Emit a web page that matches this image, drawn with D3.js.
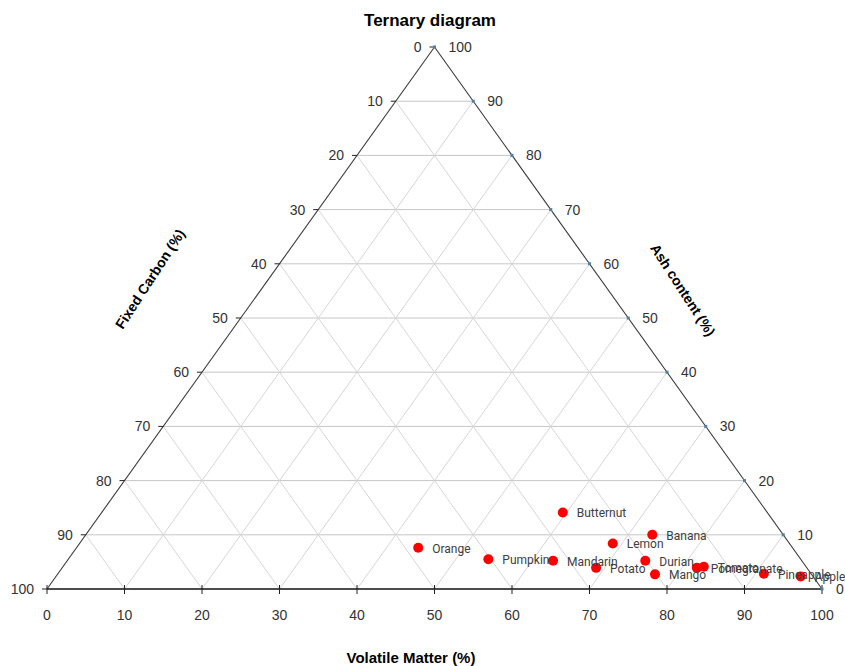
<!DOCTYPE html>
<html>
<head>
<meta charset="utf-8">
<script src="https://cdn.jsdelivr.net/npm/d3@7"></script>
<style>
  html, body { margin: 0; padding: 0; background: #fff; }
  svg { display: block; }
</style>
</head>
<body>
<svg id="chart" width="845" height="666"></svg>
<script>
// Proximate composition of fruit & vegetable residues (%)
const samples       = ["Butternut", "Banana", "Orange", "Lemon", "Pumpkin", "Mandarin", "Potato", "Durian", "Mango", "Pomegranate", "Tomato", "Pineapple", "Apple"];
const volatileMatter = [59.5, 73.1, 44.1, 68.8, 54.2, 62.7, 68.9, 74.6, 77.1, 81.9, 82.7, 91.1, 96.1];
const ashContent     = [14.1, 10.0, 7.6, 8.4, 5.5, 5.2, 3.9, 5.2, 2.7, 3.9, 4.1, 2.8, 2.3];
const fixedCarbon    = volatileMatter.map((v, i) => +(100 - v - ashContent[i]).toFixed(1));

const ticks = [0, 10, 20, 30, 40, 50, 60, 70, 80, 90, 100];
const gridLevels = [10, 20, 30, 40, 50, 60, 70, 80, 90];

const svg = d3.select("#chart");

// Horizontal position follows V + A/2, vertical follows A
const xs = d3.scaleLinear().domain([0, 100]).range([47, 822]);
const ys = d3.scaleLinear().domain([0, 100]).range([589, 47]);
const px = (v, a) => xs(v + a / 2);
const py = (v, a) => ys(a);

const narrow = "'Liberation Sans Narrow', 'Arial Narrow', 'Liberation Sans', Arial, sans-serif";

// Grid
const grid = svg.append("g");
// constant ash (horizontal)
grid.selectAll("line.h").data(gridLevels).join("line")
  .attr("x1", a => px(0, a)).attr("y1", a => py(0, a))
  .attr("x2", a => px(100 - a, a)).attr("y2", a => py(100 - a, a))
  .attr("stroke", "#c6c6c6").attr("stroke-width", 1);
// constant volatile matter
grid.selectAll("line.v").data(gridLevels).join("line")
  .attr("x1", k => px(k, 0)).attr("y1", k => py(k, 0))
  .attr("x2", k => px(k, 100 - k)).attr("y2", k => py(k, 100 - k))
  .attr("stroke", "#d6d6d6").attr("stroke-width", 1);
// constant fixed carbon
grid.selectAll("line.f").data(gridLevels).join("line")
  .attr("x1", f => px(100 - f, 0)).attr("y1", f => py(100 - f, 0))
  .attr("x2", f => px(0, 100 - f)).attr("y2", f => py(0, 100 - f))
  .attr("stroke", "#d6d6d6").attr("stroke-width", 1);

// Triangle edges
svg.append("line")
  .attr("x1", px(0, 0)).attr("y1", py(0, 0)).attr("x2", px(0, 100)).attr("y2", py(0, 100))
  .attr("stroke", "#3a3a3a").attr("stroke-width", 1.1);
svg.append("line")
  .attr("x1", px(100, 0)).attr("y1", py(100, 0)).attr("x2", px(0, 100)).attr("y2", py(0, 100))
  .attr("stroke", "#3a3a3a").attr("stroke-width", 1.1);
svg.append("line")
  .attr("x1", px(0, 0)).attr("y1", py(0, 0)).attr("x2", px(100, 0)).attr("y2", py(100, 0))
  .attr("stroke", "#111").attr("stroke-width", 1.5);

// Bottom axis ticks and labels (Volatile Matter)
svg.selectAll("line.bt").data(ticks).join("line")
  .attr("x1", v => px(v, 0)).attr("x2", v => px(v, 0))
  .attr("y1", py(0, 0) - 4).attr("y2", py(0, 0) + 5)
  .attr("stroke", "#222").attr("stroke-width", 1);
svg.selectAll("text.bl").data(ticks).join("text")
  .attr("x", v => px(v, 0)).attr("y", 620)
  .attr("text-anchor", "middle")
  .attr("font-family", narrow).attr("font-size", 14).attr("fill", "#333")
  .text(v => v);

// Left axis ticks and labels (Fixed Carbon: 0 at apex, 100 at bottom-left)
svg.selectAll("line.lt").data(ticks).join("line")
  .attr("x1", f => px(0, 100 - f) - 5).attr("x2", f => px(0, 100 - f))
  .attr("y1", f => py(0, 100 - f)).attr("y2", f => py(0, 100 - f))
  .attr("stroke", "#222").attr("stroke-width", 1);
svg.selectAll("text.ll").data(ticks).join("text")
  .attr("x", f => px(0, 100 - f) - 13).attr("y", f => py(0, 100 - f))
  .attr("dy", "0.35em")
  .attr("text-anchor", "end")
  .attr("font-family", narrow).attr("font-size", 14).attr("fill", "#333")
  .text(f => f);

// Right axis ticks and labels (Ash content: 100 at apex, 0 at bottom-right)
svg.selectAll("rect.rt").data(ticks).join("rect")
  .attr("x", a => px(100 - a, a) - 1.5).attr("y", a => py(100 - a, a) - 1.5)
  .attr("width", 3).attr("height", 3)
  .attr("fill", "#4f81a8");
svg.selectAll("text.rl").data(ticks).join("text")
  .attr("x", a => px(100 - a, a) + 14).attr("y", a => py(100 - a, a))
  .attr("dy", "0.35em")
  .attr("text-anchor", "start")
  .attr("font-family", narrow).attr("font-size", 14).attr("fill", "#333")
  .text(a => a);

// Data points
const pts = samples.map((name, i) => ({ name, v: volatileMatter[i], a: ashContent[i], f: fixedCarbon[i] }));
svg.append("g").selectAll("circle").data(pts).join("circle")
  .attr("cx", d => px(d.v, d.a)).attr("cy", d => py(d.v, d.a))
  .attr("r", 5).attr("fill", "#ff0000");
svg.append("g").selectAll("text").data(pts).join("text")
  .attr("x", d => px(d.v, d.a) + 14).attr("y", d => py(d.v, d.a))
  .attr("dy", "0.4em")
  .attr("font-family", "Roboto, 'Open Sans', sans-serif").attr("font-size", 12).attr("fill", "#404040")
  .text(d => d.name);

// Titles
svg.append("text")
  .attr("x", 430).attr("y", 26).attr("text-anchor", "middle")
  .attr("font-family", narrow).attr("font-weight", "bold").attr("font-size", 17).attr("fill", "#000")
  .text("Ternary diagram");
svg.append("text")
  .attr("x", 411).attr("y", 663).attr("text-anchor", "middle")
  .attr("font-family", narrow).attr("font-weight", "bold").attr("font-size", 15).attr("fill", "#000")
  .text("Volatile Matter (%)");
svg.append("text")
  .attr("transform", "translate(150,279) rotate(-57)")
  .attr("text-anchor", "middle").attr("dy", "0.35em")
  .attr("font-family", "'Liberation Sans', Arial, sans-serif").attr("font-weight", "bold").attr("font-size", 14).attr("fill", "#000")
  .text("Fixed Carbon (%)");
svg.append("text")
  .attr("transform", "translate(683,290) rotate(57)")
  .attr("text-anchor", "middle").attr("dy", "0.35em")
  .attr("font-family", "'Liberation Sans', Arial, sans-serif").attr("font-weight", "bold").attr("font-size", 14).attr("fill", "#000")
  .text("Ash content (%)");
</script>
</body>
</html>
